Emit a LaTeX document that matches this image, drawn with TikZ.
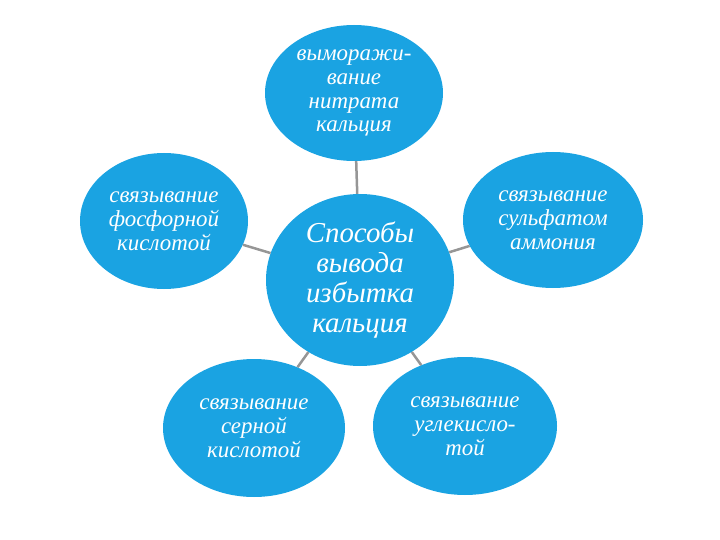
\documentclass[tikz,border=0pt]{standalone}
\usepackage{fontspec}
\setmainfont{Liberation Serif}
\usetikzlibrary{shapes.geometric}
\definecolor{wayblue}{RGB}{26,163,226}
\definecolor{linkgray}{RGB}{150,150,150}

\begin{document}
\begin{tikzpicture}[x=1bp, y=-1bp,
    way/.style = {ellipse, fill=wayblue, text=white, inner sep=0pt, align=center,
      font=\fontsize{23}{24}\selectfont\itshape},
    link/.style = {draw=linkgray, line width=2.5bp}]
  \useasboundingbox (0,0) rectangle (720,540);
%    \tikzstyle{every node} = [draw]
    \node [way, minimum width=188bp, minimum height=172bp,
      font=\fontsize{29}{30}\selectfont\itshape] (main) at (360,280)
      {Способы\\вывода\\избытка\\кальция};

    \node [way, minimum width=178bp, minimum height=136bp] (freeze) at (354,93)
      {выморажи-\\вание\\нитрата\\кальция};
    \node [way, minimum width=168bp, minimum height=136bp] (phos) at (164,221)
      {связывание\\фосфорной\\кислотой};
    \node [way, minimum width=180bp, minimum height=136bp] (ammon) at (553,220)
      {связывание\\сульфатом\\аммония};
    \node [way, minimum width=182bp, minimum height=138bp] (sulf) at (254,428)
      {связывание\\серной\\кислотой};
    \node [way, minimum width=184bp, minimum height=138bp] (carb) at (465,426)
      {связывание\\углекисло-\\той};

    \foreach \n in {freeze, phos, ammon, sulf, carb}
      \draw [link] (main) -- (\n);
\end{tikzpicture}
\end{document}
